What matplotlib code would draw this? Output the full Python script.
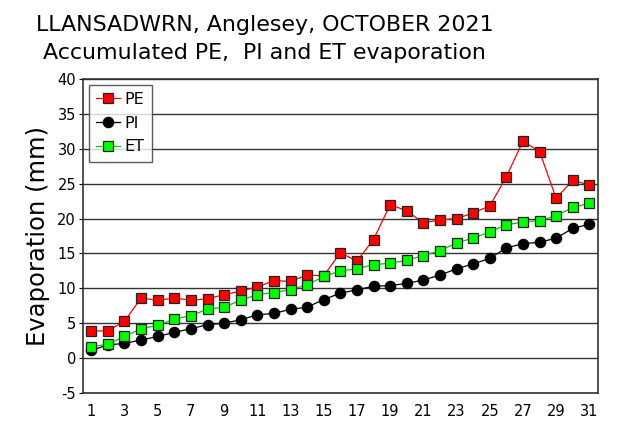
import matplotlib.pyplot as plt

plt.rcParams['axes.unicode_minus'] = False

days = list(range(1, 32))
pe = [3.9, 3.9, 5.3, 8.6, 8.3, 8.6, 8.3, 8.5, 9.1, 9.6, 10.2, 11.1, 11.0, 11.9, 11.8,
      15.1, 13.9, 17.0, 22.0, 21.1, 19.4, 19.8, 20.0, 20.8, 21.8, 26.0, 31.1, 29.6,
      22.9, 25.5, 24.8]
pi = [1.1, 1.9, 2.1, 2.6, 3.1, 3.7, 4.2, 4.8, 5.0, 5.5, 6.2, 6.4, 7.0, 7.3, 8.4,
      9.3, 9.8, 10.3, 10.4, 10.7, 11.2, 11.9, 12.8, 13.5, 14.3, 15.8, 16.4, 16.6,
      17.2, 18.6, 19.2]
et = [1.6, 2.0, 3.1, 4.2, 4.7, 5.6, 6.1, 7.0, 7.3, 8.3, 9.1, 9.4, 9.8, 10.5, 11.7,
      12.5, 12.8, 13.4, 13.6, 14.0, 14.7, 15.4, 16.5, 17.2, 18.1, 19.1, 19.5, 19.7,
      20.4, 21.6, 22.2]
xticks = list(range(1, 32, 2))
yticks = list(range(-5, 41, 5))

fig = plt.figure(figsize=(6.22, 4.23), dpi=100)
ax = fig.add_axes([0.1334, 0.0709, 0.8275, 0.7423])

for y in yticks:
    ax.axhline(y, color='#333333', lw=1.0, zorder=1)

ax.plot(days, pe, color='#ff0000', lw=0.9, marker='s', ms=7.3,
        mfc='#ff0000', mec='#222222', mew=0.9, label='PE', zorder=3)
ax.plot(days, pi, color='black', lw=0.9, marker='o', ms=7.3,
        mfc='black', mec='black', label='PI', zorder=4)
ax.plot(days, et, color='#00cc00', lw=0.9, marker='s', ms=7.3,
        mfc='#00ff00', mec='#222222', mew=0.9, label='ET', zorder=5)

ax.set_xlim(0.5, 31.5)
ax.set_ylim(-5, 40)
ax.set_xticks(xticks)
ax.set_yticks(yticks)
ax.tick_params(axis='x', length=0, labelsize=10.5, pad=8)
ax.tick_params(axis='y', length=3, labelsize=10.5, pad=2)
for s in ax.spines.values():
    s.set_color('#333333')
    s.set_linewidth(1.2)

ax.set_ylabel('Evaporation (mm)', fontsize=17.5, labelpad=5)

leg = ax.legend(loc='upper left', fontsize=11.5, frameon=True, fancybox=False,
                borderpad=0.45, handlelength=1.5, handletextpad=0.3,
                labelspacing=0.55, borderaxespad=0.35)
leg.get_frame().set_edgecolor('#333333')
leg.get_frame().set_linewidth(1.0)

fig.text(0.425, 0.94, 'LLANSADWRN, Anglesey, OCTOBER 2021', ha='center',
         va='center', fontsize=15.9)
fig.text(0.425, 0.875, 'Accumulated PE,  PI and ET evaporation', ha='center',
         va='center', fontsize=15.9)

plt.savefig('out.png', dpi=100)
